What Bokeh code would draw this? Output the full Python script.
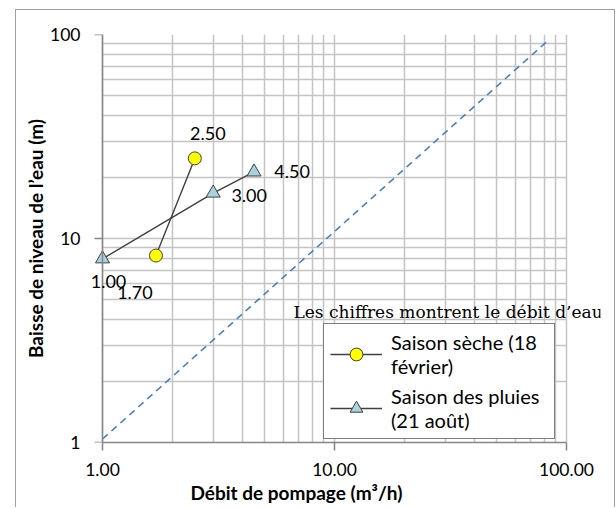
from bokeh.plotting import figure
from bokeh.models import (ColumnDataSource, Label, Legend, LegendItem,
                          FixedTicker, Range1d, Title, LogAxis)
from bokeh.embed import file_html
from bokeh.resources import INLINE

# ---- data ----
dry_q = [1.70, 2.50]
dry_s = [8.25, 24.7]
dry_labels = ["1.70", "2.50"]

wet_q = [1.00, 3.00, 4.50]
wet_s = [7.95, 16.7, 21.2]
wet_labels = ["1.00", "3.00", "4.50"]

ref_q = [1.0, 82.0]
ref_s = [1.04, 92.0]

x_ticks = [1, 10, 100]
x_tick_labels = ["1.00", "10.00", "100.00"]
y_ticks = [1, 10, 100]
y_tick_labels = ["1", "10", "100"]
minor_ticks = [m * d for d in [1, 10] for m in range(2, 10)]

# label offsets (pixels) - styling only
dry_off = [(-21, -37), (13, 25)]
wet_off = [(6, -23), (36, -2), (38, 0)]

FONT = "Lato"
GRID = "#c4c4c4"
AXIS = "#868686"

# the plotting frame is padded a little beyond the 1..100 grid so that the
# marker at Q=1 and the overhanging texts are not clipped
PX_PER_DECADE = 232.0
PAD_L, PAD_R = 14, 34
x_lo = 10 ** (-PAD_L / PX_PER_DECADE)
x_hi = 10 ** (2 + PAD_R / PX_PER_DECADE)

p = figure(x_axis_type="log", y_axis_type="log",
           x_range=Range1d(x_lo, x_hi), y_range=Range1d(1, 100),
           frame_width=464 + PAD_L + PAD_R, frame_height=408,
           min_border_left=86 - PAD_L, min_border_right=48 - PAD_R,
           min_border_top=24, min_border_bottom=65,
           output_backend="svg", toolbar_location=None)
p.styles = {"margin-left": "15px", "margin-top": "9px",
            "border-left": "1px solid #a0a0a0",
            "border-top": "1px solid #a0a0a0",
            "border-right": "1px solid #a0a0a0"}
p.outline_line_color = None
p.background_fill_color = "white"
p.border_fill_color = "white"

# x axis
xa = p.xaxis[0]
xa.ticker = FixedTicker(ticks=x_ticks, minor_ticks=minor_ticks)
xa.major_label_overrides = {t: l for t, l in zip(x_ticks, x_tick_labels)}
xa.bounds = (x_ticks[0], x_ticks[-1])
xa.axis_line_color = AXIS
xa.axis_line_width = 1.5
xa.major_tick_line_color = AXIS
xa.major_tick_line_width = 1.5
xa.major_tick_out = 8
xa.major_tick_in = 0
xa.minor_tick_out = 0
xa.minor_tick_in = 0
xa.major_label_text_font = FONT
xa.major_label_text_font_size = "17.5px"
xa.major_label_text_color = "black"
xa.major_label_standoff = 12

# y axis: labels in the left panel
ya = p.yaxis[0]
ya.ticker = FixedTicker(ticks=y_ticks, minor_ticks=minor_ticks)
ya.major_label_overrides = {t: l for t, l in zip(y_ticks, y_tick_labels)}
ya.axis_line_color = None
ya.major_tick_line_color = None
ya.minor_tick_line_color = None
ya.major_tick_out = 0
ya.major_tick_in = 0
ya.minor_tick_out = 0
ya.minor_tick_in = 0
ya.major_label_text_font = FONT
ya.major_label_text_font_size = "17.5px"
ya.major_label_text_color = "black"
ya.major_label_standoff = 8
ya.axis_label = "Baisse de niveau de l\u2019eau (m)"
ya.axis_label_text_font = FONT
ya.axis_label_text_font_size = "19px"
ya.axis_label_text_font_style = "bold"
ya.axis_label_text_color = "black"
ya.axis_label_standoff = 0

# y axis line and ticks drawn at Q = 1
ya_line = LogAxis(fixed_location=x_ticks[0],
                  ticker=FixedTicker(ticks=y_ticks, minor_ticks=minor_ticks),
                  major_label_overrides={t: "" for t in y_ticks},
                  axis_line_color=AXIS, axis_line_width=1.5,
                  major_tick_line_color=AXIS, major_tick_line_width=1.5,
                  major_tick_in=8, major_tick_out=0,
                  minor_tick_in=0, minor_tick_out=0,
                  major_label_standoff=0, major_label_text_font_size="1px")
p.add_layout(ya_line, "right")

xt = Title(text="D\u00e9bit de pompage (m\u00b3/h)", align="left", offset=88 + PAD_L,
           text_font=FONT, text_font_size="19px", text_font_style="bold",
           text_color="black", standoff=0)
p.add_layout(xt, "below")

for g in (p.xgrid[0], p.ygrid[0]):
    g.grid_line_color = GRID
    g.grid_line_width = 1.5
    g.minor_grid_line_color = GRID
    g.minor_grid_line_width = 1.5
p.ygrid[0].cross_bounds = (x_ticks[0], x_ticks[-1])

# reference line
p.line(ref_q, ref_s, line_color="#4a7ebb", line_width=1.6, line_dash="7 5")

# series
dry_src = ColumnDataSource(dict(x=dry_q, y=dry_s))
wet_src = ColumnDataSource(dict(x=wet_q, y=wet_s))

dl = p.line("x", "y", source=dry_src, line_color="#404040", line_width=1.4)
ds = p.scatter("x", "y", source=dry_src, marker="circle", size=13,
               fill_color="#ffff00", line_color="#404040", line_width=1)
wl = p.line("x", "y", source=wet_src, line_color="#404040", line_width=1.4)
ws = p.scatter("x", "y", source=wet_src, marker="triangle", size=14,
               fill_color="#a9d3dc", line_color="#404040", line_width=1)

for qs, ss, labs, offs in ((dry_q, dry_s, dry_labels, dry_off), (wet_q, wet_s, wet_labels, wet_off)):
    for q, s, lab, (xo, yo) in zip(qs, ss, labs, offs):
        p.add_layout(Label(x=q, y=s, text=lab, x_offset=xo, y_offset=yo,
                           text_align="center", text_baseline="middle",
                           text_font=FONT, text_font_size="18px", text_color="black"))

p.add_layout(Label(x=191 + PAD_L, y=131, x_units="screen", y_units="screen",
                   text="Les chiffres montrent le d\u00e9bit d\u2019eau",
                   text_font="DejaVu Serif", text_font_size="17px",
                   text_baseline="alphabetic", text_align="left", text_color="black"))

legend = Legend(items=[
    LegendItem(label="Saison s\u00e8che (18\nf\u00e9vrier)", renderers=[dl, ds]),
    LegendItem(label="Saison des pluies\n(21 ao\u00fbt)", renderers=[wl, ws]),
], location=(221 + PAD_L, 3))
legend.border_line_color = "black"
legend.border_line_width = 1.5
legend.background_fill_color = "white"
legend.background_fill_alpha = 1
legend.label_text_font = FONT
legend.label_text_font_size = "20px"
legend.label_text_color = "black"
legend.label_text_line_height = 1.25
legend.glyph_width = 52
legend.glyph_height = 32
legend.label_standoff = 9
legend.label_width = 157
legend.padding = 6
legend.spacing = 6
legend.margin = 0
p.add_layout(legend, "center")

open("out.html", "w").write(file_html(p, INLINE))
